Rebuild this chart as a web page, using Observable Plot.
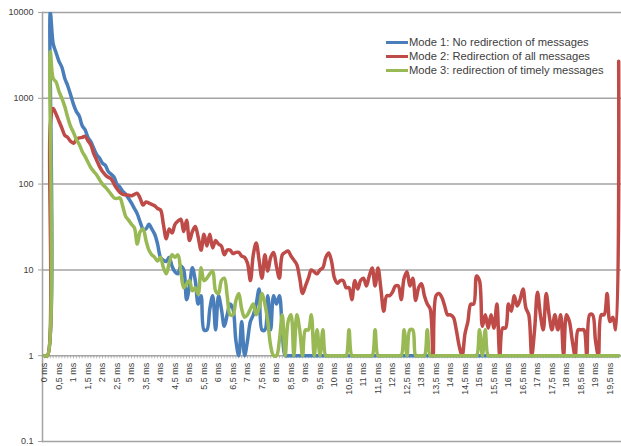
<!DOCTYPE html>
<html><head><meta charset="utf-8">
<script src="https://cdn.jsdelivr.net/npm/d3@7"></script>
<script src="https://cdn.jsdelivr.net/npm/@observablehq/plot@0.6"></script>
<style>
body{margin:0;background:#fff;font-family:"Liberation Sans",Arial,sans-serif;}
#wrap{position:relative;width:621px;height:446px;overflow:hidden;}
#legend{position:absolute;left:386px;top:35px;font-size:11.2px;color:#404040;}
.item{display:flex;align-items:center;height:14px;white-space:nowrap;}
.sw{width:22px;height:3px;margin-right:1px;}
</style></head><body>
<div id="wrap"><div id="chart"></div><div id="legend"></div></div>
<script>
const seriesNames = ["Mode 1: No redirection of messages", "Mode 2: Redirection of all messages", "Mode 3: redirection of timely messages"];
const colors = ["#4a7ebb", "#be4b48", "#98b954"];
const stepMs = 0.1;

const mode1 = [
1,1,10000,4300,3400,2700,2300,1700,1400,1100,
850,700,620,480,430,350,310,260,220,200,
175,165,140,130,120,100,92,82,76,68,
60,52,45,36,30,30,34,30,26,20,
14,13,12.5,14,11,9.5,9,11,10,4.5,
6.5,10.6,7.5,4,5,2,2,3.5,5,2,
5,3.5,2.2,3,4,3.5,1.5,1,2.5,1,
1.5,2.5,3,4,6,2,2,5,2,5,
4,5,2,1,1,1,1,1,1,1,
1,1,1,1,1,1,1,1,1,1,
1,1,1,1,1,1,1,1,1,1,
1,1,1,1,1,1,1,1,1,1,
1,1,1,1,1,1,1,1,1,1,
1,1,1,1,1,1,1,1,1,1,
1,1,1,1,1,1,1,1,1,1,
1,1,1,1,1,1,1,1,1,1,
1,1,1,1,1,1,1,1,1,1,
1,1,1,1,1,1,1,1,1,1,
1,1,1,1,1,1,1,1,1,1,
1,1,1,1,1,1,1,1,1];

const mode2 = [
1,1,500,760,650,540,450,370,350,315,
300,330,345,350,360,320,285,225,190,160,
140,128,120,115,100,88,80,76,75,74,
73,76,78,68,57,62,60,58,56,52,
50,34,23,30,27,34,37,39,28,38,
22,28,32,24,17,26,19,26,18,22,
20,19,15,17,17,15.5,16,16,14.5,14,
12,7.5,15,20.6,13,8,15,9.7,14,16,
11,8,15,16,16.6,14.5,13,11.5,8,5.3,
6.5,8,10,9.5,9,10,10.6,14,15.7,12.5,
8,7,7.5,7.5,6.2,6.2,4.5,7.5,6,7.5,
8,6.5,8.5,10.5,6.5,10.5,6,3.3,5,5,
5.5,6.5,6.5,4.5,8,9.5,6.5,8,4.4,6.2,
6.9,5,4,3.5,1,5,5.3,4.8,3.8,3,
3,2.8,2,1.3,1,1.8,2.5,4,4,8.5,
7.5,2.2,3,2.1,3,2.1,4,1,2.1,2.1,
4,3.3,5,3.8,4.5,6,3.6,3,1,2,
5.5,3,2,5.3,3,2,3,2,3,1,
3,2.5,1.5,1,2,2,2,1,3,3,
1.5,1,3,3,5.3,2.5,2.8,2,2700];

const mode3 = [
1,1,3500,1700,1550,1200,1000,800,600,470,
400,330,290,240,210,180,155,140,128,112,
100,92,84,76,69,68,69,55,42,38,
34,31,20,28,30,22,17,15,14,12.7,
14,10.6,9,12,15,14,15,9.7,6.2,6.9,
7.5,5.7,6.2,5.2,10.6,7.5,8,9,9.7,5.7,
5.3,7.5,8,5,3,3,4.4,5.3,3.5,2.8,
3,3.5,4,3,3.6,5.3,4,2.5,1.3,1,
1,1.5,3,1,2.5,3,1,3,2,1,
2,2,3,1,2,1,2,1,1,1,
1,1,1,1,1,2,1,1,1,1,
1,1,1,1,2,1,1,1,1,1,
1,1,1,1,2,1,2,2,1,1,
1,1,2,1,1,1,1,1,1,1,
1,1,1,1,1,1,1,1,1,1,
2,1,2,1,1,1,1,1,1,1,
1,1,1,1,1,1,1,1,1,1,
1,1,1,1,1,1,1,1,1,1,
1,1,1,1,1,1,1,1,1,1,
1,1,1,1,1,1,1,1,1];

const tickLabels = ["0 ms","0,5 ms","1 ms","1,5 ms","2 ms","2,5 ms","3 ms","3,5 ms","4 ms","4,5 ms",
"5 ms","5,5 ms","6 ms","6,5 ms","7 ms","7,5 ms","8 ms","8,5 ms","9 ms","9,5 ms",
"10 ms","10,5 ms","11 ms","11,5 ms","12 ms","12,5 ms","13 ms","13,5 ms","14 ms","14,5 ms",
"15 ms","15,5 ms","16 ms","16,5 ms","17 ms","17,5 ms","18 ms","18,5 ms","19 ms","19,5 ms"];
const yTicks = [0.1, 1, 10, 100, 1000, 10000];

const allSeries = [mode1, mode2, mode3];
const allTimes = mode1.map((_, i) => +(i * stepMs).toFixed(1));
const rows = [];
allSeries.forEach((vals, k) => vals.forEach((v, i) => rows.push({series: seriesNames[k], t: allTimes[i], v})));
const tickTimes = tickLabels.map(s => parseFloat(s.replace(",", ".")));

const gridColor = "#a3a3a3";
const chart = Plot.plot({
  width: 621, height: 446,
  marginLeft: 42, marginRight: 0, marginTop: 12, marginBottom: 5,
  style: {fontFamily: "'Liberation Sans', Arial, sans-serif", background: "#fff"},
  x: {type: "linear", domain: [-0.069, 19.897], axis: null},
  y: {type: "log", domain: [0.1, 10000], axis: null},
  color: {domain: seriesNames, range: colors},
  marks: [
    Plot.ruleY(yTicks, {stroke: gridColor, strokeWidth: 1.5}),
    Plot.ruleX(allTimes, {x: d => d, y1: () => 1, y2: () => 0.92, stroke: gridColor, strokeWidth: 0.8}),
    Plot.frame({anchor: "left", stroke: gridColor, strokeWidth: 1.5}),
    Plot.axisY({ticks: yTicks, label: null, tickSize: 4, tickPadding: 5, tickFormat: d => String(d), fontSize: 9, stroke: gridColor, fill: "#404040"}),
    Plot.lineY(rows, {x: "t", y: "v", z: "series", stroke: "series", strokeWidth: 3.5, curve: "catmull-rom", clip: true}),
    Plot.text(tickLabels, {x: tickTimes, y: () => 1, text: d => d, rotate: -90, textAnchor: "end", lineAnchor: "middle", dy: 7, fontSize: 9, fill: "#404040"})
  ]
});
document.getElementById("chart").appendChild(chart);

const legend = document.getElementById("legend");
seriesNames.forEach((name, k) => {
  const item = document.createElement("div");
  item.className = "item";
  const sw = document.createElement("span");
  sw.className = "sw";
  sw.style.background = colors[k];
  const label = document.createElement("span");
  label.textContent = name;
  item.appendChild(sw); item.appendChild(label);
  legend.appendChild(item);
});
</script>
</body></html>
